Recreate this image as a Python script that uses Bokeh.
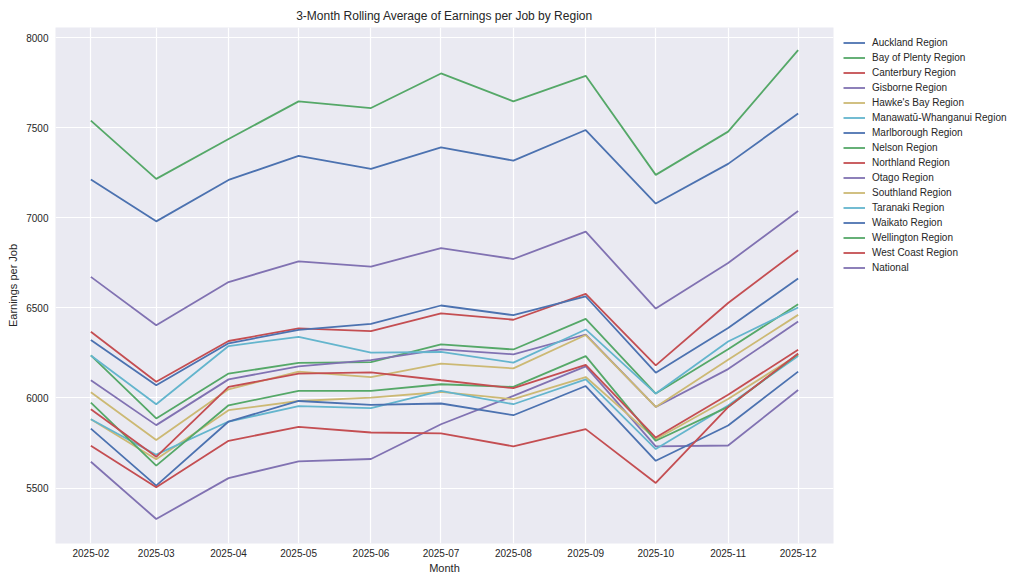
import pandas as pd
from bokeh.plotting import figure
from bokeh.layouts import row
from bokeh.models import Range1d, FixedTicker, DatetimeTickFormatter, Legend, LegendItem
from bokeh.embed import file_html
from bokeh.resources import INLINE

months = ["2025-02", "2025-03", "2025-04", "2025-05", "2025-06", "2025-07",
          "2025-08", "2025-09", "2025-10", "2025-11", "2025-12"]

auckland    = [7212, 6980, 7210, 7343, 7271, 7391, 7317, 7487, 7079, 7299, 7579]
bay_plenty  = [6236, 5886, 6135, 6194, 6199, 6297, 6269, 6439, 6024, 6270, 6520]
canterbury  = [6367, 6090, 6316, 6386, 6371, 6469, 6434, 6577, 6181, 6527, 6820]
gisborne    = [5646, 5328, 5555, 5648, 5661, 5854, 6011, 6175, 5731, 5736, 6044]
hawkes_bay  = [5882, 5660, 5932, 5983, 6002, 6033, 5993, 6116, 5771, 5994, 6239]
manawatu    = [5882, 5685, 5869, 5954, 5943, 6039, 5965, 6103, 5716, 5958, 6233]
marlborough = [5830, 5513, 5869, 5983, 5961, 5969, 5904, 6066, 5651, 5847, 6146]
nelson      = [5974, 5624, 5959, 6039, 6039, 6076, 6061, 6232, 5762, 5950, 6243]
northland   = [5734, 5504, 5762, 5839, 5808, 5803, 5731, 5827, 5528, 5949, 6247]
otago       = [6098, 5849, 6103, 6175, 6210, 6269, 6242, 6352, 5950, 6160, 6424]
southland   = [6031, 5766, 6048, 6146, 6116, 6190, 6164, 6349, 5950, 6212, 6461]
taranaki    = [6236, 5965, 6288, 6339, 6251, 6255, 6196, 6380, 6024, 6313, 6502]
waikato     = [6321, 6070, 6303, 6378, 6411, 6513, 6459, 6563, 6140, 6388, 6663]
wellington  = [7539, 7216, 7437, 7646, 7609, 7801, 7646, 7788, 7238, 7478, 7930]
west_coast  = [5937, 5673, 6061, 6135, 6142, 6098, 6054, 6183, 5780, 6018, 6267]
national    = [6672, 6403, 6643, 6758, 6729, 6832, 6771, 6923, 6496, 6749, 7037]

region_names = ["Auckland Region", "Bay of Plenty Region", "Canterbury Region",
                "Gisborne Region", "Hawke's Bay Region", "Manawatū-Whanganui Region",
                "Marlborough Region", "Nelson Region", "Northland Region",
                "Otago Region", "Southland Region", "Taranaki Region",
                "Waikato Region", "Wellington Region", "West Coast Region", "National"]
region_values = [auckland, bay_plenty, canterbury, gisborne, hawkes_bay, manawatu,
                 marlborough, nelson, northland, otago, southland, taranaki,
                 waikato, wellington, west_coast, national]

y_ticks = [5500, 6000, 6500, 7000, 7500, 8000]
palette = ["#4C72B0", "#55A868", "#C44E52", "#8172B2", "#CCB974", "#64B5CD"]

dates = pd.to_datetime(months, format="%Y-%m")
x_ms = [d.timestamp() * 1000.0 for d in dates]
span = x_ms[-1] - x_ms[0]
pad = span * 0.05

FONT = "Liberation Sans"
TXT = "#262626"

p = figure(width=835, height=585, x_axis_type="datetime",
           output_backend="svg", toolbar_location=None,
           x_range=Range1d(x_ms[0] - pad, x_ms[-1] + pad),
           y_range=Range1d(5192, 8056),
           title="3-Month Rolling Average of Earnings per Job by Region")
p.min_border_left = 55
p.min_border_right = 2
p.min_border_top = 27
p.min_border_bottom = 42
p.background_fill_color = "#EAEAF2"
p.border_fill_color = "white"
p.outline_line_color = None

p.title.align = "center"
p.title.text_font = FONT
p.title.text_font_size = "12px"
p.title.text_font_style = "normal"
p.title.text_color = TXT
p.title.standoff = 9

tick_x = FixedTicker(ticks=x_ms)
p.xaxis.ticker = tick_x
p.xgrid.ticker = tick_x
fmt = "%Y-%m"
p.xaxis.formatter = DatetimeTickFormatter(milliseconds=fmt, seconds=fmt, minsec=fmt,
                                          minutes=fmt, hourmin=fmt, hours=fmt,
                                          days=fmt, months=fmt, years=fmt)
tick_y = FixedTicker(ticks=y_ticks)
p.yaxis.ticker = tick_y
p.ygrid.ticker = tick_y

p.xaxis.axis_label = "Month"
p.yaxis.axis_label = "Earnings per Job"
for ax in (p.xaxis, p.yaxis):
    ax.axis_line_color = None
    ax.major_tick_line_color = None
    ax.minor_tick_line_color = None
    ax.major_tick_out = 0
    ax.major_tick_in = 0
    ax.minor_tick_out = 0
    ax.minor_tick_in = 0
    ax.major_label_text_font = FONT
    ax.major_label_text_font_size = "10px"
    ax.major_label_text_color = TXT
    ax.axis_label_text_font = FONT
    ax.axis_label_text_font_size = "11px"
    ax.axis_label_text_font_style = "normal"
    ax.axis_label_text_color = TXT
p.xaxis.major_label_standoff = 5
p.xaxis.axis_label_standoff = 2
p.yaxis.major_label_standoff = 7
p.yaxis.axis_label_standoff = 4

p.grid.grid_line_color = "white"
p.grid.grid_line_width = 1.2

for i, vals in enumerate(region_values):
    p.line(x=x_ms, y=vals, line_color=palette[i % len(palette)], line_width=1.8)

# legend panel to the right of the plot
lg = figure(width=1024 - 835, height=585, output_backend="svg", toolbar_location=None,
            x_range=Range1d(0, 1), y_range=Range1d(0, 1),
            x_axis_location=None, y_axis_location=None)
lg.grid.visible = False
lg.outline_line_color = None
lg.background_fill_color = "white"
lg.border_fill_color = "white"
lg.min_border_left = 0
lg.min_border_top = 27
lg.min_border_right = 0
lg.min_border_bottom = 42

items = []
for i, (name, vals) in enumerate(zip(region_names, region_values)):
    r = lg.line(x=x_ms, y=vals, line_color=palette[i % len(palette)], line_width=1.8)
    items.append(LegendItem(label=name, renderers=[r]))

legend = Legend(items=items, location="top_left")
legend.margin = 8
legend.padding = 4
legend.spacing = 0
legend.glyph_height = 15
legend.label_height = 15
legend.glyph_width = 22
legend.label_standoff = 7
legend.label_text_font = FONT
legend.label_text_font_size = "10px"
legend.label_text_color = TXT
legend.border_line_color = None
legend.background_fill_alpha = 0
lg.add_layout(legend, "center")

layout = row(p, lg)
open("out.html", "w").write(file_html(layout, INLINE))
